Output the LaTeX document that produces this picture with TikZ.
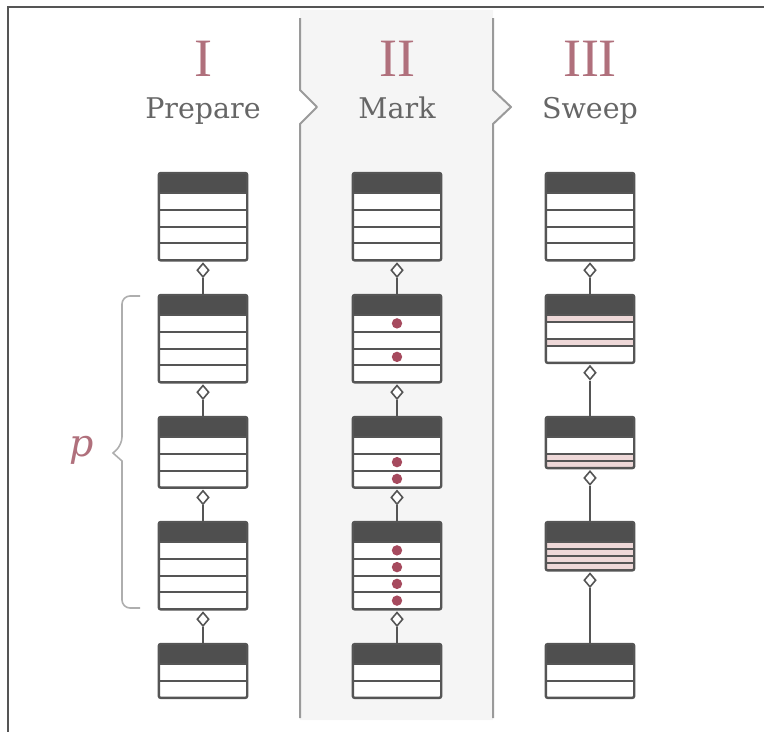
\documentclass[tikz,border=0pt]{standalone}
\usepackage{fontspec}
\setmainfont{DejaVu Serif}
\newfontfamily\numfont{Liberation Serif}
\usetikzlibrary{shapes.geometric,calc}

\definecolor{ink}{HTML}{555555}
\definecolor{headgray}{HTML}{4F4F4F}
\definecolor{rose}{HTML}{B0707C}
\definecolor{dotred}{HTML}{A64A5E}
\definecolor{pinkrow}{HTML}{EED8D8}
\definecolor{lanegray}{HTML}{F5F5F5}
\definecolor{laneline}{HTML}{9A9A9A}
\definecolor{labelgray}{HTML}{666666}

\tikzset{
	tblbox/.style={fill=white, minimum width=88pt, inner sep=0pt, anchor=north},
	boxline/.style={draw=ink, line width=2.4pt, rounded corners=2pt},
	rowline/.style={draw=ink, line width=2pt},
	agg/.style={diamond, draw=ink, fill=white, line width=1.6pt, inner sep=0pt, minimum width=12pt, minimum height=14pt, anchor=north},
	link/.style={draw=ink, line width=2.2pt},
	livedot/.style={fill=dotred},
	numeral/.style={font=\numfont\fontsize{54}{54}\selectfont, text=rose, anchor=base, inner sep=0pt},
	phase/.style={font=\fontsize{28.5}{28.5}\selectfont, text=labelgray, anchor=base, inner sep=0pt},
	lane/.style={draw=laneline, line width=2pt, line join=round},
	frame/.style={draw=ink, line width=2pt},
	brace/.style={draw=laneline!80, line width=1.6pt}
}

\newcommand{\rw}{16.75}
\newcommand{\rp}{7}

% table box: name, x, top, list of row heights
\newcommand{\tbl}[4]{%
	\xdef\tblh{20}%
	\foreach \h in {#4}{\pgfmathsetmacro\tmp{\tblh+\h}\xdef\tblh{\tmp}}%
	\node[tblbox, minimum height=\tblh pt] (#1) at (#2,#3) {};
	\fill[headgray] (#1.north west) rectangle ([yshift=-20pt]#1.north east);
	\xdef\tbly{20}%
	\foreach \h in {#4}{%
		\pgfmathsetmacro\tmp{\tbly+\h}%
		\ifdim\h pt<10pt
			\fill[pinkrow] ([yshift=-\tbly pt]#1.north west) rectangle ([yshift=-\tmp pt]#1.north east);
		\fi
		\draw[rowline] ([yshift=-\tbly pt]#1.north west) -- ([yshift=-\tbly pt]#1.north east);
		\xdef\tbly{\tmp}}%
	\draw[boxline] (#1.north west) rectangle (#1.south east);
}

\begin{document}
\begin{tikzpicture}[x=1pt, y=-1pt]
	\useasboundingbox (0,0) rectangle (764,732);
	% mark lane
	\fill[lanegray] (300,10) -- (300,90) -- (317,107) -- (300,124) -- (300,720) -- (493,720) -- (493,124) -- (511,107) -- (493,90) -- (493,10) -- cycle;
	\draw[lane] (300,18) -- (300,90) -- (317,107) -- (300,124) -- (300,718);
	\draw[lane] (493,18) -- (493,90) -- (511,107) -- (493,124) -- (493,718);
	\draw[frame] (7,7) -- (764,7);
	\draw[frame] (8,7) -- (8,732);

	% headings
	\node[numeral] (n1) at (203,76) {I};
	\node[numeral] (n2) at (397,76) {II};
	\node[numeral] (n3) at (590,76) {III};
	\node[phase] (t1) at (203,118) {Prepare};
	\node[phase] (t2) at (397,118) {Mark};
	\node[phase] (t3) at (590,118) {Sweep};

	% prepare and mark columns
	\foreach \c/\x in {p/203, m/397} {
		\tbl{\c1}{\x}{173}{\rw,\rw,\rw,\rw}
		\tbl{\c2}{\x}{295}{\rw,\rw,\rw,\rw}
		\tbl{\c3}{\x}{417}{\rw,\rw,\rw}
		\tbl{\c4}{\x}{522}{\rw,\rw,\rw,\rw}
		\tbl{\c5}{\x}{644}{\rw,\rw}
	}
	% sweep column
	\tbl{s1}{590}{173}{\rw,\rw,\rw,\rw}
	\tbl{s2}{590}{295}{\rp,\rw,\rp,\rw}
	\tbl{s3}{590}{417}{\rw,\rp,\rp}
	\tbl{s4}{590}{522}{\rp,\rp,\rp,\rp}
	\tbl{s5}{590}{644}{\rw,\rw}

	% links
	\foreach \a/\b in {p1/p2,p2/p3,p3/p4,p4/p5,m1/m2,m2/m3,m3/m4,m4/m5,s1/s2,s2/s3,s3/s4,s4/s5} {
		\node[agg] (d\a) at ([yshift=-2pt]\a.south) {};
		\draw[link] (d\a) -- (\b);
	}

	% marked rows
	\foreach \i in {1,3} \fill[livedot] ([yshift={-(20+(\i-0.5)*\rw)}]m2.north) circle (5.2pt);
	\foreach \i in {2,3} \fill[livedot] ([yshift={-(20+(\i-0.5)*\rw)}]m3.north) circle (5.2pt);
	\foreach \i in {1,...,4} \fill[livedot] ([yshift={-(20+(\i-0.5)*\rw)}]m4.north) circle (5.2pt);

	% brace
	\draw[brace, rounded corners=8pt] (140,296) -| (122,445) [sharp corners] -- (113,453) -- (122,461) [rounded corners=8pt] |- (140,608);
	\node[font=\itshape\fontsize{38}{38}\selectfont, text=rose] (plen) at (82,450) {p};
\end{tikzpicture}
\end{document}
